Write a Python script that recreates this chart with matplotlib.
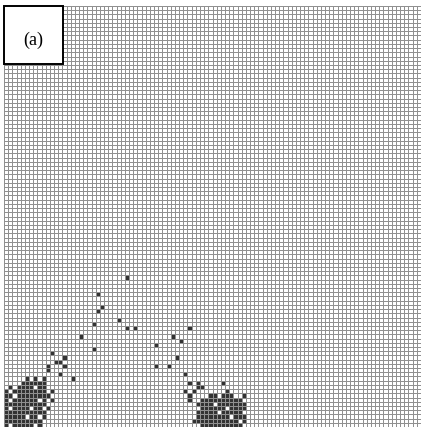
import matplotlib.pyplot as plt
import numpy as np
from matplotlib.patches import Rectangle

plt.rcParams['font.family'] = 'serif'
plt.rcParams['font.serif'] = ['Liberation Serif', 'DejaVu Serif']

nx, ny = 100, 100

# occupied cells, (column, row from bottom)
scattered = [(29, 35), (22, 31), (23, 28), (22, 27), (21, 24), (18, 21), (27, 25),
             (29, 23), (31, 23), (21, 18), (44, 23), (40, 21), (42, 20), (36, 19),
             (41, 16), (39, 14), (36, 14), (14, 16), (13, 15), (14, 14), (11, 17),
             (12, 15), (10, 14), (10, 13), (13, 12), (16, 11), (43, 12)]

# left cluster, rows top->bottom starting at row 11, columns from 0
cluster_left = [".....X.X.X..",
                "....XXXXXX..",
                ".X.XXXX.XX..",
                "X.XXXXXXXX.X",
                "XX.XXXXXXXX.",
                "X.XXXXXX.X.X",
                "XXXXXXXXXX..",
                "X.XXXX.XX.X.",
                "XXXXXXXXXX..",
                "XXXXX.XX.X..",
                "XXXXXXXXX...",
                "X.XXXXX.X..."]

# right cluster, rows top->bottom starting at row 10, columns from 43
cluster_right = [".X.X.....X.....",
                 "...XX.........",
                 "X.X.......X....",
                 ".X....XX.XXX..X",
                 ".X..XXXXXXXXXX.",
                 "...XXXX.XXXXXXX",
                 "....XXXXXX.XXXX",
                 "...XXXXX.XXXXX.",
                 "...XXXXXXXX.XXX",
                 "..XXXXXXXXXXX.X",
                 "....XXXXXXXXXX."]

occ = np.zeros((ny, nx))
for c, r in scattered:
    occ[r, c] = 1
for i, line in enumerate(cluster_left):
    for j, ch in enumerate(line):
        if ch == "X":
            occ[11 - i, j] = 1
for i, line in enumerate(cluster_right):
    for j, ch in enumerate(line):
        if ch == "X":
            occ[10 - i, 43 + j] = 1

fig = plt.figure(figsize=(4.21, 4.31), dpi=100)
ax = fig.add_axes([4 / 421, 3 / 431, 417 / 421, 421 / 431])
ax.pcolormesh(np.arange(nx + 1), np.arange(ny + 1), occ, cmap="Greys",
              vmin=0, vmax=1.2, edgecolors="#909090", linewidth=0.65)
ax.set_xlim(0, nx)
ax.set_ylim(0, ny)
ax.set_xticks([])
ax.set_yticks([])
for s in ax.spines.values():
    s.set_visible(False)

# label box
fig.patches.append(Rectangle((4 / 421, 1 - 65 / 431), 59 / 421, 58 / 431,
                             transform=fig.transFigure, facecolor="white",
                             edgecolor="black", linewidth=1.4, zorder=5))
fig.text(33 / 421, 1 - 40 / 431, "(a)", fontsize=13, ha="center", va="center",
         zorder=6)

fig.savefig("out.png", dpi=100)
